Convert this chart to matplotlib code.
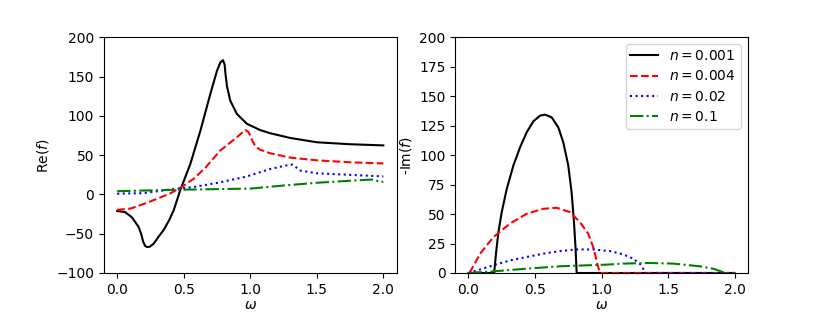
import matplotlib
matplotlib.use("Agg")
import matplotlib.pyplot as plt

# values
# --- Re(f) ---
w_re_001 = [0.0, 0.06, 0.11, 0.16, 0.18, 0.195, 0.21, 0.225, 0.245, 0.275, 0.31, 0.35, 0.39,
            0.425, 0.475, 0.55, 0.625, 0.7, 0.75, 0.775, 0.795, 0.807, 0.815, 0.825, 0.85,
            0.9, 0.975, 1.0, 1.075, 1.15, 1.3, 1.5, 1.75, 2.0]
re_001 = [-21, -22.5, -29, -41, -50, -60, -65.5, -67, -66.5, -62.5, -54, -45, -33,
          -20, 6, 39, 81, 128, 157.5, 168, 171, 166, 152, 138, 119.5,
          102.5, 90, 88, 82, 78, 72, 66.5, 64, 62.5]

w_re_004 = [0.0, 0.1, 0.2, 0.3, 0.4, 0.475, 0.575, 0.6625, 0.775, 0.9, 0.9625,
            0.985, 1.0, 1.02, 1.04, 1.075, 1.15, 1.3, 1.5, 1.75, 2.0]
re_004 = [-19.5, -18, -12, -5.5, 1.5, 8.5, 20, 34, 56, 73, 82,
          80, 75, 67, 61, 57, 52.5, 47, 43.5, 41, 39.5]

w_re_02 = [0.0, 0.2, 0.425, 0.575, 0.775, 0.975, 1.15, 1.3, 1.32, 1.375, 1.5, 1.75, 2.0]
re_02 = [1, 1.7, 7, 9.5, 15.5, 23, 32.5, 38, 38, 30.5, 27, 25, 23]

w_re_1 = [0.0, 0.45, 1.0, 1.25, 1.5, 1.75, 1.875, 1.92, 1.975, 2.0]
re_1 = [4.2, 6, 7.5, 11.4, 14.9, 17.5, 18.7, 19, 16.5, 16]

# --- -Im(f) ---
w_im_001 = [0.0, 0.193, 0.208, 0.225, 0.25, 0.288, 0.3375, 0.388, 0.438, 0.4875, 0.538,
            0.575, 0.625, 0.675, 0.7125, 0.75, 0.775, 0.793, 0.805, 0.813, 2.0]
im_001 = [0, 0, 17.8, 34.7, 51.7, 71.5, 91.3, 106.8, 119.5, 128.8, 133.6,
          134.5, 132.2, 123.7, 111, 91.3, 68.6, 43.2, 20.7, 0, 0]

w_im_004 = [0.008, 0.0875, 0.1875, 0.3125, 0.4375, 0.5625, 0.6625, 0.7625, 0.8375, 0.9,
            0.9375, 0.975, 0.99, 2.0]
im_004 = [0, 16.4, 30.5, 42, 50.3, 54.5, 55.4, 51.7, 43.2, 33.4, 22, 5, 0, 0]

w_im_02 = [0.0, 0.1875, 0.3125, 0.4375, 0.5625, 0.6875, 0.8125, 0.9375, 1.0625, 1.1625,
           1.2375, 1.2875, 1.3125, 1.33, 2.0]
im_02 = [0, 6.5, 10.7, 13.6, 16.4, 18.6, 20, 20, 18.6, 15.8, 12.2, 7.9, 3.7, 0, 0]

w_im_1 = [0.0, 0.1875, 0.4375, 0.6875, 1.0375, 1.1625, 1.3625, 1.5375, 1.7375, 1.8375,
          1.9125, 1.94, 2.0]
im_1 = [0, 1.4, 3.7, 5.7, 7.1, 8, 8.5, 8, 5.7, 3.7, 0.8, 0, 0]

labels = [r'$n=0.001$', r'$n=0.004$', r'$n=0.02$', r'$n=0.1$']
styles = ['k-', 'r--', 'b:', 'g-.']

fig, (ax1, ax2) = plt.subplots(1, 2, figsize=(8.31, 3.12), dpi=100)
fig.subplots_adjust(left=0.125, right=0.9, top=0.88, bottom=0.125, wspace=0.2)

re_sets = [(w_re_001, re_001), (w_re_004, re_004), (w_re_02, re_02), (w_re_1, re_1)]
im_sets = [(w_im_001, im_001), (w_im_004, im_004), (w_im_02, im_02), (w_im_1, im_1)]

for (w, v), st, lab in zip(re_sets, styles, labels):
    ax1.plot(w, v, st, label=lab)
for (w, v), st, lab in zip(im_sets, styles, labels):
    ax2.plot(w, v, st, label=lab)

ax1.set_ylim(-100, 200)
ax1.set_xlabel(r'$\omega$', labelpad=1)
ax1.set_ylabel(r'Re($f$)')

ax2.set_ylim(0, 200)
ax2.set_xlabel(r'$\omega$', labelpad=1)
ax2.set_ylabel(r'-Im($f$)')
ax2.legend(loc='upper right', borderpad=0.35, labelspacing=0.45)

fig.savefig('out.png', dpi=100)
